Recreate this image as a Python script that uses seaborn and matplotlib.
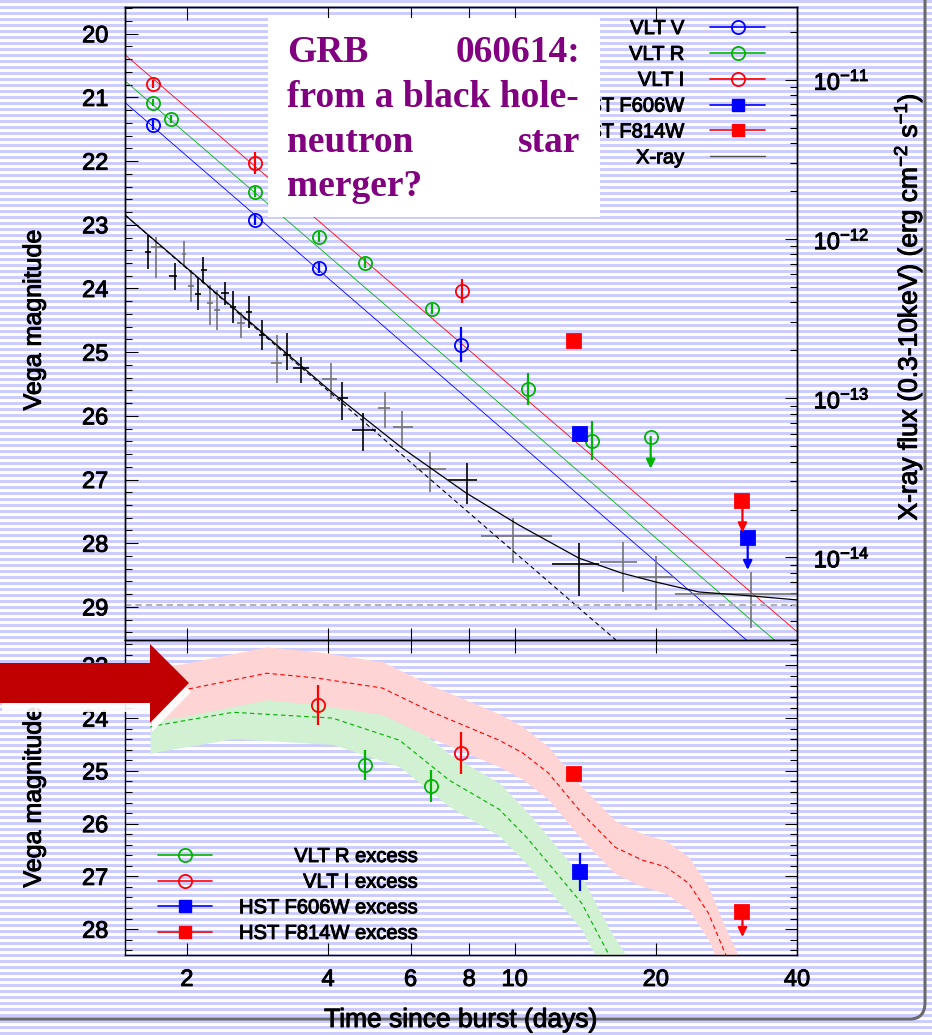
import numpy as np
import matplotlib
matplotlib.use("Agg")
import matplotlib.pyplot as plt
import matplotlib.patheffects as pe
import seaborn as sns
from matplotlib.lines import Line2D
from matplotlib.patches import Rectangle, Polygon, FancyBboxPatch
from matplotlib.ticker import (FixedLocator, NullLocator, MultipleLocator,
                               LogLocator, NullFormatter, FuncFormatter)

# ---- data: upper panel (optical afterglow, Vega mag) ----
vltV_t = [1.69, 2.80, 3.82, 7.69]
vltV_mag = [21.43, 22.92, 23.68, 24.88]
vltV_err = [0.08, 0.08, 0.08, 0.27]

vltR_t = [1.69, 1.85, 2.80, 3.82, 4.79, 6.68, 10.7, 14.6]
vltR_mag = [21.08, 21.34, 22.48, 23.19, 23.60, 24.32, 25.58, 26.39]
vltR_err = [0.06, 0.06, 0.08, 0.08, 0.08, 0.08, 0.25, 0.31]
vltR_lim_t = [19.5]
vltR_lim_mag = [26.33]

vltI_t = [1.69, 2.80, 7.72]
vltI_mag = [20.79, 22.03, 24.04]
vltI_err = [0.06, 0.17, 0.19]

f606_t = [13.8]
f606_mag = [26.28]
f606_err = [0.10]
f606_lim_t = [31.4]
f606_lim_mag = [27.92]

f814_t = [13.4]
f814_mag = [24.82]
f814_err = [0.05]
f814_lim_t = [30.6]
f814_lim_mag = [27.33]

# power-law fits (two end points each)
plV_t, plV_mag = [1.476, 31.2], [21.08, 29.52]
plR_t, plR_mag = [1.476, 35.8], [20.74, 29.52]
plI_t, plI_mag = [1.476, 40.0], [20.33, 29.39]

# ---- data: X-ray (right axis, erg cm-2 s-1) ----
xr_t = [1.65, 1.72, 1.97, 1.89, 2.04, 2.11, 2.17, 2.24, 2.32, 2.41, 2.51, 2.61, 2.72, 2.89, 3.11,
        3.27, 3.51, 4.05, 4.29, 4.76, 5.30, 5.76, 6.61, 7.93, 9.93, 13.7, 17.0, 20.0, 31.9]
xr_tlo = [1.63, 1.68, 1.95, 1.83, 2.01, 2.08, 2.14, 2.21, 2.28, 2.37, 2.47, 2.56, 2.68, 2.85, 3.03,
          3.20, 3.36, 3.89, 4.21, 4.49, 5.12, 5.49, 6.17, 7.22, 8.49, 12.0, 15.2, 18.3, 22.0]
xr_thi = [1.68, 1.77, 1.99, 1.91, 2.07, 2.14, 2.21, 2.27, 2.35, 2.46, 2.54, 2.66, 2.76, 2.93, 3.19,
          3.33, 3.64, 4.17, 4.42, 5.07, 5.43, 6.08, 7.15, 8.32, 12.0, 15.1, 18.2, 21.8, 45.0]
xr_f = [8.28e-13, 8.91e-13, 8.05e-13, 5.86e-13, 5.07e-13, 4.51e-13, 6.39e-13, 3.96e-13, 3.58e-13,
        4.58e-13, 3.74e-13, 2.97e-13, 3.48e-13, 2.49e-13, 1.66e-13, 1.87e-13, 1.55e-13, 1.32e-13,
        1.00e-13, 6.31e-14, 8.68e-14, 6.59e-14, 3.59e-14, 3.06e-14, 1.36e-14, 9.09e-15, 9.36e-15,
        7.53e-15, 5.89e-15]
xr_flo = [6.48e-13, 5.69e-13, 6.67e-13, 4.78e-13, 4.02e-13, 3.58e-13, 5.29e-13, 2.88e-13, 2.68e-13,
          3.85e-13, 2.97e-13, 2.39e-13, 2.76e-13, 2.01e-13, 1.25e-13, 1.50e-13, 1.25e-13, 9.89e-14,
          7.30e-14, 4.66e-14, 6.50e-14, 4.94e-14, 2.57e-14, 2.16e-14, 9.22e-15, 5.72e-15, 6.06e-15,
          4.67e-15, 3.60e-15]
xr_fhi = [1.06e-12, 1.03e-12, 9.71e-13, 7.07e-13, 6.39e-13, 5.69e-13, 7.71e-13, 5.14e-13, 4.78e-13,
          5.37e-13, 4.71e-13, 3.48e-13, 4.39e-13, 3.10e-13, 2.49e-13, 2.57e-13, 1.81e-13, 1.66e-13,
          1.26e-13, 8.07e-14, 1.09e-13, 8.31e-14, 4.59e-14, 3.92e-14, 1.77e-14, 1.23e-14, 1.25e-14,
          1.02e-14, 8.10e-15]
xr_dark = [1, 0, 0, 1, 0, 1, 1, 0, 0, 1, 1, 0, 1, 1, 0, 1, 1, 0, 1, 1, 0, 0, 0, 1, 0, 1, 0, 0, 0]

xr_pl_t, xr_pl_f = [1.476, 16.44], [1.415e-12, 3.03e-15]
xr_mod_t = [1.476, 3.11, 4.09, 5.76, 7.88, 10.2, 13.7, 16.9, 20.0, 24.7, 32.0, 40.0]
xr_mod_f = [1.415e-12, 2.16e-13, 1.08e-13, 4.86e-14, 2.54e-14, 1.60e-14, 9.91e-15, 7.98e-15,
            7.01e-15, 6.07e-15, 5.73e-15, 5.41e-15]
xr_host = 5.0e-15
flux_ticks = [1e-14, 1e-13, 1e-12, 1e-11]

# ---- data: lower panel (excess over the power law) ----
exR_t, exR_mag, exR_err = [4.79, 6.64], [24.89, 25.29], [0.28, 0.30]
exI_t, exI_mag, exI_err = [3.80, 7.70], [23.75, 24.66], [0.38, 0.40]
ex606_t, ex606_mag, ex606_err = [13.8], [26.92], [0.36]
ex814_t, ex814_mag = [13.4], [25.06]
ex814_lim_t, ex814_lim_mag = [30.6], [27.68]

red_sn_t = [1.67, 1.96, 2.96, 3.78, 5.22, 6.68, 9.27, 10.4, 11.8, 13.9, 16.4, 18.7, 21.0, 23.5,
            25.9, 28.2, 30.0]
red_sn_mag = [23.55, 23.47, 23.15, 23.24, 23.43, 23.89, 24.42, 24.66, 25.04, 25.80, 26.45, 26.69,
              26.82, 27.13, 27.70, 28.49, 29.0]
grn_sn_t = [1.67, 1.75, 2.51, 4.09, 5.68, 7.26, 9.27, 10.6, 11.8, 13.9, 15.9, 17.3]
grn_sn_mag = [24.17, 24.13, 23.89, 24.00, 24.42, 25.18, 25.73, 26.26, 26.75, 27.51, 28.49, 29.0]
band_half = 0.5

xticks = [2, 4, 6, 8, 10, 20, 40]

# ---- style ----
sns.set_theme(style="ticks", rc={
    "axes.facecolor": "none", "axes.edgecolor": "black", "text.color": "black",
    "axes.labelcolor": "black", "xtick.color": "black", "ytick.color": "black",
    "axes.linewidth": 1.0})
plt.rcParams["font.family"] = ["Liberation Sans", "DejaVu Sans"]
plt.rcParams["mathtext.fontset"] = "custom"
plt.rcParams["mathtext.rm"] = "Liberation Sans"
plt.rcParams["mathtext.it"] = "Liberation Sans:italic"
plt.rcParams["mathtext.default"] = "regular"

cB, cG, cR = "#0000ff", "#00b400", "#ff0000"
W, H = 932, 1035
heavy = [pe.withStroke(linewidth=0.7, foreground="black")]


def fx(x):
    return x / W


def fy(y):
    return 1 - y / H


fig = plt.figure(figsize=(W / 100, H / 100), dpi=100)

# striped slide background
bg = fig.add_axes([0, 0, 1, 1], zorder=-10)
rows = np.arange(H)
img = np.ones((H, 1, 3))
img[(rows % 6) < 3] = [0.8, 0.8, 1.0]
bg.imshow(img, aspect="auto", interpolation="nearest", extent=[0, 1, 0, 1])
bg.set_axis_off()

ax1 = fig.add_axes([fx(125), fy(640), 672 / W, 633 / H])
ax2 = fig.add_axes([fx(125), fy(955), 672 / W, 315 / H], sharex=ax1)
tw = ax1.twinx()


def limit_arrows(ax, t, mag, color, length=0.5):
    for tt, mm in zip(t, mag):
        ax.annotate("", xy=(tt, mm + length), xytext=(tt, mm),
                    arrowprops=dict(arrowstyle="-|>,head_width=0.22,head_length=0.45",
                                    color=color, lw=1.6, shrinkA=0, shrinkB=0))


# ---- upper panel ----
for t, m, c in [(plV_t, plV_mag, cB), (plR_t, plR_mag, cG), (plI_t, plI_mag, cR)]:
    sns.lineplot(x=t, y=m, ax=ax1, color=c, lw=0.6, estimator=None, sort=False)

ekw = dict(capsize=0, elinewidth=1.6, ms=9.5, mew=1.3)
ax1.errorbar(vltV_t, vltV_mag, yerr=vltV_err, fmt="o", color=cB, mfc="none", **ekw)
ax1.errorbar(vltR_t, vltR_mag, yerr=vltR_err, fmt="o", color=cG, mfc="none", **ekw)
ax1.errorbar(vltI_t, vltI_mag, yerr=vltI_err, fmt="o", color=cR, mfc="none", **ekw)
ax1.errorbar(vltR_lim_t, vltR_lim_mag, fmt="o", color=cG, mfc="none", **ekw)
limit_arrows(ax1, vltR_lim_t, vltR_lim_mag, cG)
ax1.errorbar(f606_t, f606_mag, yerr=f606_err, fmt="s", color=cB, **ekw)
ax1.errorbar(f814_t, f814_mag, yerr=f814_err, fmt="s", color=cR, **ekw)
limit_arrows(ax1, f606_lim_t, f606_lim_mag, cB)
limit_arrows(ax1, f814_lim_t, f814_lim_mag, cR)
ax1.errorbar(f606_lim_t, f606_lim_mag, fmt="s", color=cB, **ekw)
ax1.errorbar(f814_lim_t, f814_lim_mag, fmt="s", color=cR, **ekw)

ax1.set_xscale("log")
ax1.set_xlim(1.476, 40)
ax1.set_ylim(29.52, 19.58)
ax1.xaxis.set_major_locator(FixedLocator(xticks))
ax1.xaxis.set_minor_locator(NullLocator())
ax1.xaxis.set_major_formatter(FuncFormatter(lambda v, p: f"{v:g}"))
ax1.yaxis.set_major_locator(MultipleLocator(1))
ax1.yaxis.set_minor_locator(MultipleLocator(0.2))
ax1.tick_params(axis="x", which="both", direction="in", top=True, bottom=True,
                labelbottom=False, length=9, width=0.8)
ax1.tick_params(axis="y", which="major", direction="in", left=True, right=False,
                length=9, width=0.8, labelsize=17, pad=12)
ax1.tick_params(axis="y", which="minor", direction="in", left=True, right=False,
                length=5, width=0.8)
ax1.set_ylabel("Vega magnitude", fontsize=18, path_effects=heavy)
ax1.yaxis.set_label_coords(-0.118, 0.505)

# X-ray on the flux axis
xr_t_a, xr_f_a = np.array(xr_t), np.array(xr_f)
xr_xerr = np.array([xr_t_a - np.array(xr_tlo), np.array(xr_thi) - xr_t_a])
xr_yerr = np.array([xr_f_a - np.array(xr_flo), np.array(xr_fhi) - xr_f_a])
dark = np.array(xr_dark) == 1
for mask, col in [(~dark, "0.45"), (dark, "black")]:
    tw.errorbar(xr_t_a[mask], xr_f_a[mask], xerr=xr_xerr[:, mask], yerr=xr_yerr[:, mask],
                fmt="none", ecolor=col, elinewidth=1.2, capsize=0)
sns.lineplot(x=xr_mod_t, y=xr_mod_f, ax=tw, color="black", lw=0.9, estimator=None, sort=False)
sns.lineplot(x=xr_pl_t, y=xr_pl_f, ax=tw, color="black", lw=0.8, linestyle=(0, (4, 3)),
             estimator=None, sort=False)
tw.axhline(xr_host, color="0.7", lw=1.5, linestyle=(0, (3, 2)))
tw.set_yscale("log")
tw.set_ylim(3.03e-15, 2.866e-11)
tw.yaxis.set_major_locator(FixedLocator(flux_ticks))
tw.yaxis.set_minor_locator(LogLocator(base=10, subs=np.arange(2, 10), numticks=12))
tw.yaxis.set_minor_formatter(NullFormatter())
tw.tick_params(axis="y", which="major", direction="in", length=9, width=0.8, labelsize=17, pad=12)
tw.tick_params(axis="y", which="minor", direction="in", length=5, width=0.8)
tw.grid(False)

up_handles = [
    Line2D([], [], color=cB, marker="o", mfc="none", ms=9.5, mew=1.3, lw=1.2),
    Line2D([], [], color=cG, marker="o", mfc="none", ms=9.5, mew=1.3, lw=1.2),
    Line2D([], [], color=cR, marker="o", mfc="none", ms=9.5, mew=1.3, lw=1.2),
    Line2D([], [], color=cB, marker="s", ms=9, lw=1.2),
    Line2D([], [], color=cR, marker="s", ms=9, lw=1.2),
    Line2D([], [], color="0.3", lw=1.0),
]
up_labels = ["VLT V", "VLT R", "VLT I", "HST F606W", "HST F814W", "X-ray"]
leg_up = ax1.legend(up_handles, up_labels, loc="upper right", bbox_to_anchor=(0.952, 0.981),
                    markerfirst=False, frameon=False, fontsize=14.5, handlelength=2.7,
                    handletextpad=1.3, labelspacing=0.34, borderpad=0, borderaxespad=0)

# ---- lower panel ----
g_t, g_m = np.array(grn_sn_t), np.array(grn_sn_mag)
r_t, r_m = np.array(red_sn_t), np.array(red_sn_mag)
ax2.fill_between(g_t, g_m - band_half, g_m + band_half, color="#d2f0d2", lw=0, zorder=1)
ax2.fill_between(r_t, r_m - band_half, r_m + band_half, color="#ffd4d4", lw=0, zorder=1.1)
sns.lineplot(x=grn_sn_t, y=grn_sn_mag, ax=ax2, color="#00b000", lw=0.8,
             linestyle=(0, (4, 3)), estimator=None, sort=False, zorder=2)
sns.lineplot(x=red_sn_t, y=red_sn_mag, ax=ax2, color=cR, lw=0.8,
             linestyle=(0, (4, 3)), estimator=None, sort=False, zorder=2)

ax2.errorbar(exR_t, exR_mag, yerr=exR_err, fmt="o", color=cG, mfc="none", zorder=4, **ekw)
ax2.errorbar(exI_t, exI_mag, yerr=exI_err, fmt="o", color=cR, mfc="none", zorder=4, **ekw)
ax2.errorbar(ex606_t, ex606_mag, yerr=ex606_err, fmt="s", color=cB, zorder=4, **ekw)
ax2.errorbar(ex814_t, ex814_mag, fmt="s", color=cR, zorder=4, **ekw)
limit_arrows(ax2, ex814_lim_t, ex814_lim_mag, cR, length=0.47)
ax2.errorbar(ex814_lim_t, ex814_lim_mag, fmt="s", color=cR, zorder=4, **ekw)

ax2.set_ylim(28.49, 22.52)
ax2.yaxis.set_major_locator(MultipleLocator(1))
ax2.yaxis.set_minor_locator(MultipleLocator(0.2))
ax2.tick_params(axis="x", which="both", direction="in", top=True, bottom=True,
                length=9, width=0.8, labelsize=17, pad=10)
ax2.tick_params(axis="y", which="major", direction="in", left=True, right=True,
                length=9, width=0.8, labelsize=17, pad=12)
ax2.tick_params(axis="y", which="minor", direction="in", left=True, right=True,
                length=5, width=0.8)
ax2.set_ylabel("Vega magnitude", fontsize=18, path_effects=heavy)
ax2.yaxis.set_label_coords(-0.118, 0.5)
ax2.set_xlabel("")

low_handles = [
    Line2D([], [], color=cG, marker="o", mfc="none", ms=9.5, mew=1.3, lw=1.2),
    Line2D([], [], color=cR, marker="o", mfc="none", ms=9.5, mew=1.3, lw=1.2),
    Line2D([], [], color=cB, marker="s", ms=9, lw=1.2),
    Line2D([], [], color=cR, marker="s", ms=9, lw=1.2),
]
low_labels = ["VLT R excess", "VLT I excess", "HST F606W excess", "HST F814W excess"]
lkw = dict(frameon=False, fontsize=14.5, labelspacing=0.33, borderpad=0, borderaxespad=0)
legA = ax2.legend(low_handles, [" "] * 4, loc="upper left", bbox_to_anchor=(0.049, 0.343),
                  handlelength=2.7, handletextpad=0, **lkw)
ax2.add_artist(legA)
blank = [Line2D([], [], lw=0) for _ in low_labels]
leg_low = ax2.legend(blank, low_labels, loc="upper right", bbox_to_anchor=(0.436, 0.343),
                     markerfirst=False, handlelength=0, handletextpad=0, **lkw)

# heavier text, like the rasterised gnuplot fonts
for a in (ax1, ax2, tw):
    for lab in a.get_xticklabels() + a.get_yticklabels():
        lab.set_path_effects(heavy)
for leg in (leg_up, leg_low):
    for txt in leg.get_texts():
        txt.set_path_effects(heavy)

# ---- slide decorations ----
fig.add_artist(Rectangle((fx(268), fy(217)), (600 - 268) / W, (217 - 18) / H,
                         transform=fig.transFigure, fc="white", ec="none", zorder=2))
tkw = dict(family=["Liberation Serif", "DejaVu Serif"], fontweight="bold", color="#800080",
           fontsize=27, va="baseline", zorder=3)
fig.text(fx(287), fy(62), "GRB", ha="left", **tkw)
fig.text(fx(580), fy(62), "060614:", ha="right", **tkw)
fig.text(fx(287), fy(107), "from a black hole-", ha="left", **tkw)
fig.text(fx(287), fy(152), "neutron", ha="left", **tkw)
fig.text(fx(580), fy(152), "star", ha="right", **tkw)
fig.text(fx(287), fy(196), "merger?", ha="left", **tkw)

fig.text(fx(908), fy(307), "X-ray flux (0.3-10keV) (erg cm$^{-2}$ s$^{-1}$)", rotation=90,
         ha="center", va="center", fontsize=19, path_effects=heavy)
fig.text(fx(461), fy(1020), "Time since burst (days)", ha="center", va="center", fontsize=19,
         zorder=4, path_effects=heavy)

arrow_px = [(0, 663), (150, 663), (150, 644), (189, 683), (150, 723), (150, 703), (0, 703)]
glow = [(fx(x + 2), fy(y + 9)) for x, y in arrow_px]
fig.add_artist(Polygon(glow, closed=True, transform=fig.transFigure, fc="white", ec="none",
                       alpha=0.9, zorder=4))
fig.add_artist(Polygon([(fx(x), fy(y)) for x, y in arrow_px], closed=True,
                       transform=fig.transFigure, fc="#c00000", ec="none", zorder=5))

fig.add_artist(FancyBboxPatch((-0.05, fy(1019)), fx(925) + 0.05, 1.1,
                              boxstyle="round,pad=0,rounding_size=0.016",
                              transform=fig.transFigure, fill=False, ec="#6a6a6a", lw=2.2,
                              zorder=3))

fig.savefig("out.png", dpi=100)
